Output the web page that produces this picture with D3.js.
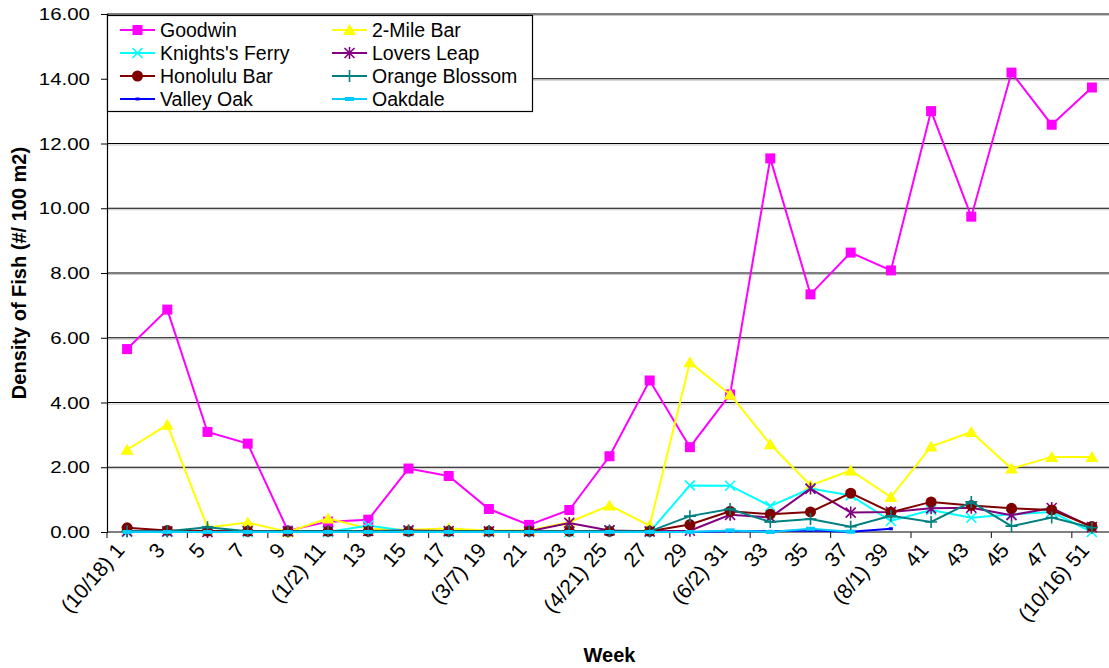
<!DOCTYPE html>
<html><head><meta charset="utf-8">
<script src="https://cdn.jsdelivr.net/npm/d3@7"></script>
<style>
html,body{margin:0;padding:0;background:#fff;}
svg text{font-family:"Liberation Sans",Arial,sans-serif;fill:#000;}
</style></head>
<body><svg id="chart" width="1109" height="668"></svg>
<script>
const weeks = ["(10/18) 1","3","5","7","9","(1/2) 11","13","15","17","(3/7) 19","21","23","(4/21) 25","27","29","(6/2) 31","33","35","37","(8/1) 39","41","43","45","47","(10/16) 51"];
const yTicks = [0,2,4,6,8,10,12,14,16];

const goodwin   = [5.65,6.87,3.09,2.73,0.04,0.32,0.38,1.96,1.73,0.71,0.22,0.68,2.34,4.68,2.62,4.25,11.54,7.34,8.63,8.08,13.0,9.74,14.19,12.58,13.73];
const twoMile   = [2.54,3.31,0.14,0.29,0.0,0.42,0.10,0.07,0.11,0.04,0.05,0.30,0.82,0.20,5.24,4.25,2.71,1.44,1.90,1.08,2.64,3.09,1.96,2.32,2.32];
const knights   = [0,0,0.04,0,0.02,0,0.20,0.02,0,0,0,0,0.05,0,1.44,1.43,0.80,1.34,1.13,0.34,0.68,0.44,0.55,0.62,0.0];
const lovers    = [0.02,0.02,0,0.03,0.02,0.03,0.03,0.05,0.03,0.02,0.02,0.28,0.05,0.02,0.04,0.53,0.45,1.34,0.60,0.62,0.73,0.75,0.52,0.74,0.15];
const honolulu  = [0.13,0.05,0.03,0.02,0.02,0.02,0.02,0.02,0.02,0.02,0.02,0.02,0.02,0.02,0.23,0.64,0.55,0.62,1.20,0.61,0.93,0.82,0.73,0.68,0.17];
const orange    = [0.02,0.02,0.15,0.02,0.02,0.02,0.02,0.02,0.02,0.02,0.02,0.02,0.02,0.02,0.49,0.71,0.31,0.40,0.16,0.50,0.31,0.93,0.18,0.45,0.13];
const valleyOak = [0,0,0,0,0,0,0,0,0,0,0,0,0,0,0,0.02,0.02,0.05,0.01,0.10];
const oakdale   = [0,0,0,0,0,0,0,0,0,0,0,0,0,0,0,0.05,0.0,0.10,0.01];

const seriesNames  = ["Goodwin","2-Mile Bar","Knights's Ferry","Lovers Leap","Honolulu Bar","Orange Blossom","Valley Oak","Oakdale"];
const seriesValues = [goodwin,twoMile,knights,lovers,honolulu,orange,valleyOak,oakdale];
const seriesColors = ["#FF00FF","#FFFF00","#00FFFF","#800080","#800000","#008080","#0000FF","#00CCFF"];
const seriesMarkers= ["square","triangle","x","star","circle","plus","dot","dash"];

const svg = d3.select("#chart");
const L = 107, T = 14, B = 532, R = 107 + 25*40.2;
const x = d3.scaleBand().domain(d3.range(weeks.length)).range([L, R]);
const y = d3.scaleLinear().domain([0,16]).range([B, T]);
const cx = i => x(i) + x.bandwidth()/2;

// gridlines
const grid = svg.append("g");
yTicks.filter(v => v > 0).forEach(v => {
  grid.append("line").attr("x1", L).attr("x2", 1109).attr("y1", y(v)+1.5).attr("y2", y(v)+1.5)
    .attr("stroke", "#c8c8c8").attr("stroke-width", 1.2);
  grid.append("line").attr("x1", L).attr("x2", 1109).attr("y1", y(v)).attr("y2", y(v))
    .attr("stroke", "#000").attr("stroke-width", 1.2);
});

// y axis
const yAxis = d3.axisLeft(y).tickValues(yTicks).tickSize(6).tickFormat(d3.format(".2f"));
const ya = svg.append("g").attr("transform", `translate(${L},0)`).call(yAxis);
ya.select(".domain").attr("stroke", "#000").attr("stroke-width", 1.2);
ya.selectAll(".tick line").attr("stroke", "#000");
ya.selectAll(".tick text").attr("font-size", 16).attr("font-family", "Liberation Sans, Arial")
  .attr("x", 0).attr("dy", "0.35em")
  .attr("transform", "translate(-17,0) scale(1.28,1)").attr("text-anchor", "end");

// x axis
const tickBoundaries = d3.range(0, 25, 2);
const xb = svg.append("g");
xb.append("line").attr("x1", L).attr("x2", 1109).attr("y1", B).attr("y2", B).attr("stroke", "#000").attr("stroke-width", 1.2);
tickBoundaries.forEach(i => {
  xb.append("line").attr("x1", x(i)).attr("x2", x(i)).attr("y1", B).attr("y2", B+6).attr("stroke", "#333").attr("stroke-width", 1.2);
});
weeks.forEach((w, i) => {
  xb.append("text").attr("transform", `translate(${cx(i)-7},${B+14}) rotate(-49)`)
    .attr("text-anchor", "end").attr("dy", "0.35em").attr("font-size", 21).text(w);
});

// axis titles
svg.append("text").attr("transform", `translate(26,${(T+B)/2}) rotate(-90)`).attr("text-anchor", "middle")
  .attr("font-size", 20).attr("font-weight", "bold").text("Density of Fish (#/ 100 m2)");
svg.append("text").attr("x", (L+R)/2).attr("y", 662).attr("text-anchor", "middle")
  .attr("font-size", 20).attr("font-weight", "bold").text("Week");

function marker(g, type, color, px, py) {
  switch (type) {
    case "square": g.append("rect").attr("x", px-5).attr("y", py-5).attr("width", 10).attr("height", 10).attr("fill", color); break;
    case "triangle": g.append("path").attr("d", `M${px},${py-6}L${px+6.5},${py+5}L${px-6.5},${py+5}Z`).attr("fill", color); break;
    case "x": g.append("path").attr("d", `M${px-5},${py-5}L${px+5},${py+5}M${px-5},${py+5}L${px+5},${py-5}`).attr("stroke", color).attr("stroke-width", 1.6); break;
    case "star": g.append("path").attr("d", `M${px-5},${py-5}L${px+5},${py+5}M${px-5},${py+5}L${px+5},${py-5}M${px},${py-6}L${px},${py+6}`).attr("stroke", color).attr("stroke-width", 1.6); break;
    case "circle": g.append("circle").attr("cx", px).attr("cy", py).attr("r", 5.5).attr("fill", color); break;
    case "plus": g.append("path").attr("d", `M${px-6},${py}L${px+6},${py}M${px},${py-6}L${px},${py+6}`).attr("stroke", color).attr("stroke-width", 1.6); break;
    case "dot": g.append("rect").attr("x", px-2).attr("y", py-1.5).attr("width", 4).attr("height", 3).attr("fill", color); break;
    case "dash": g.append("rect").attr("x", px-4.5).attr("y", py-2).attr("width", 9).attr("height", 4).attr("fill", color); break;
  }
}

const line = d3.line().x((d, i) => cx(i)).y(d => y(d));
const plot = svg.append("g");
seriesValues.forEach((vals, s) => {
  const g = plot.append("g");
  g.append("path").datum(vals).attr("d", line).attr("fill", "none")
    .attr("stroke", seriesColors[s]).attr("stroke-width", 2);
  vals.forEach((v, i) => marker(g, seriesMarkers[s], seriesColors[s], cx(i), y(v)));
});

// legend
const lg = svg.append("g");
lg.append("rect").attr("x", 107.5).attr("y", 15.5).attr("width", 425).attr("height", 96)
  .attr("fill", "#fff").attr("stroke", "#000").attr("stroke-width", 1.2);
seriesNames.forEach((n, s) => {
  const col = s % 2, row = Math.floor(s / 2);
  const lx = col === 0 ? 120 : 332, ly = 30 + row * 23;
  lg.append("line").attr("x1", lx).attr("x2", lx+35).attr("y1", ly).attr("y2", ly)
    .attr("stroke", seriesColors[s]).attr("stroke-width", 2);
  marker(lg, seriesMarkers[s], seriesColors[s], lx+17.5, ly);
  lg.append("text").attr("x", lx+40).attr("y", ly).attr("dy", "0.36em")
    .attr("font-size", 19.5).text(n);
});
</script></body></html>
